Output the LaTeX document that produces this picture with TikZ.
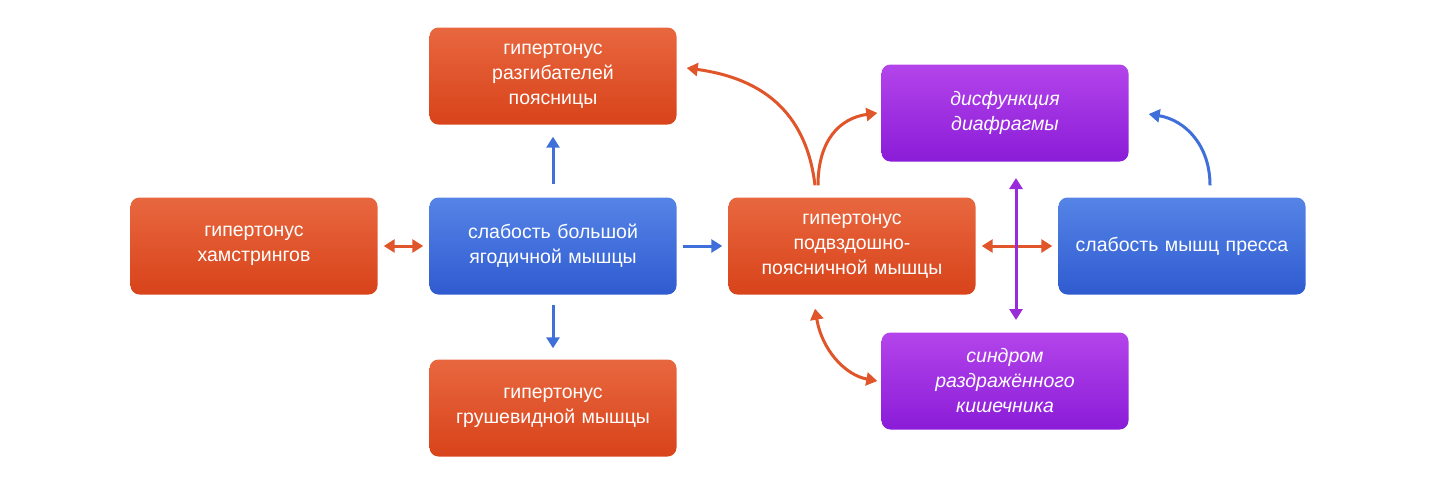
\documentclass[tikz,border=0pt]{standalone}
\usepackage{fontspec}
\setmainfont{Liberation Sans}
\usetikzlibrary{arrows.meta}
\definecolor{orA}{HTML}{E8673F}
\definecolor{orB}{HTML}{D8431A}
\definecolor{blA}{HTML}{5584E6}
\definecolor{blB}{HTML}{2F5BD0}
\definecolor{puA}{HTML}{B444EA}
\definecolor{puB}{HTML}{8A1CD8}
\definecolor{orL}{HTML}{E0552A}
\definecolor{blL}{HTML}{3F6FD8}
\definecolor{puL}{HTML}{9A2BD8}
\tikzset{
  box/.style={rounded corners=9pt,minimum width=247pt,minimum height=97pt,
    text width=235pt,align=center,text=white,font=\fontsize{19.5}{25}\selectfont},
  orbox/.style={box,top color=orA,bottom color=orB},
  blbox/.style={box,top color=blA,bottom color=blB},
  pubox/.style={box,top color=puA,bottom color=puB,font=\fontsize{19.5}{25}\selectfont\itshape},
  arr/.style={line width=3pt,-{Triangle[length=11pt,width=13pt]}},
  darr/.style={line width=3pt,{Triangle[length=11pt,width=13pt]}-{Triangle[length=11pt,width=13pt]}}
}
\begin{document}
\begin{tikzpicture}[x=1pt,y=-1pt]
\useasboundingbox (0,0) rectangle (1437,480);
% boxes
\node[orbox] (lumbar) at (553,76) {гипертонус\\разгибателей\\поясницы};
\node[orbox] (hams) at (254,246) {гипертонус\\хамстрингов};
\node[blbox] (glute) at (553,246) {слабость большой\\ягодичной мышцы};
\node[orbox] (piri) at (553,408) {гипертонус\\грушевидной мышцы};
\node[orbox] (psoas) at (852,246) {гипертонус\\подвздошно-\\поясничной мышцы};
\node[pubox] (diaph) at (1005,113) {дисфункция\\диафрагмы};
\node[blbox] (abs) at (1182,246) {слабость мышц пресса};
\node[pubox] (ibs) at (1005,381) {синдром\\раздражённого\\кишечника};
% arrows
\coordinate (vtop) at (1016,178);
\coordinate (vbot) at (1016,320);
\draw[darr,orL] ([xshift=-6pt]glute.west) -- ([xshift=6pt]hams.east);
\draw[arr,blL] ([xshift=6pt]glute.east) -- ([xshift=-6pt]psoas.west);
\draw[arr,blL] ([yshift=13pt]glute.north) -- ([yshift=-12pt]lumbar.south);
\draw[arr,blL] ([yshift=-10pt]glute.south) -- ([yshift=11pt]piri.north);
\draw[arr,orL] ([xshift=-37pt,yshift=12pt]psoas.north) .. controls (806,110) and (760,78) .. ([xshift=10pt,yshift=8pt]lumbar.east);
\draw[arr,orL] ([xshift=-34pt,yshift=12pt]psoas.north) .. controls (818,140) and (840,118) .. ([xshift=-4pt]diaph.west);
\draw[darr,orL] ([xshift=6pt]psoas.east) -- ([xshift=-6pt]abs.west);
\draw[darr,puL] (vtop) -- (vbot);
\draw[arr,blL] ([xshift=28pt,yshift=12pt]abs.north) .. controls (1210,145) and (1185,120) .. ([xshift=20pt,yshift=-1pt]diaph.east);
\draw[darr,orL] ([xshift=-37pt,yshift=-14pt]psoas.south) .. controls (822,350) and (845,375) .. ([xshift=-4pt]ibs.west);
\end{tikzpicture}
\end{document}
